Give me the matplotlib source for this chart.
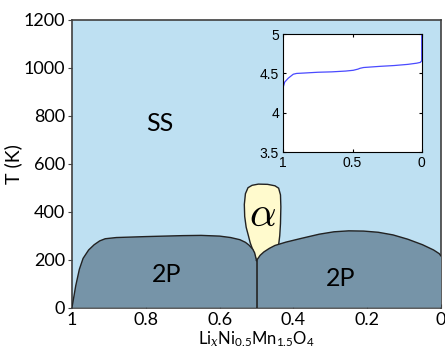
import matplotlib
matplotlib.use("Agg")
import matplotlib.pyplot as plt

plt.rcParams['mathtext.fontset'] = 'custom'
plt.rcParams['mathtext.rm'] = 'Lato'
plt.rcParams['mathtext.it'] = 'DejaVu Serif:italic'

# ---- data ----
# left two-phase dome boundary (x, T)
left2p_x = [1.0, 0.99, 0.98, 0.97, 0.955, 0.94, 0.925, 0.91, 0.88, 0.80, 0.70, 0.65,
            0.60, 0.57, 0.545, 0.53, 0.52, 0.51, 0.505, 0.5]
left2p_T = [0, 90, 160, 205, 240, 262, 278, 287, 292, 296, 300, 301,
            298, 292, 283, 272, 260, 243, 228, 196]
# right two-phase dome boundary
right2p_x = [0.5, 0.49, 0.48, 0.465, 0.45, 0.42, 0.38, 0.33, 0.29, 0.25, 0.21, 0.17,
             0.13, 0.09, 0.05, 0.02, 0.005, 0.0]
right2p_T = [196, 218, 232, 247, 259, 273, 288, 306, 316, 320, 319, 314,
             303, 285, 262, 240, 225, 215]
# alpha phase outline
alpha_x = [0.5, 0.51, 0.517, 0.522, 0.528, 0.532, 0.533, 0.53, 0.523, 0.512, 0.495,
           0.47, 0.45, 0.44, 0.435, 0.434, 0.435, 0.437, 0.44, 0.46]
alpha_T = [196, 240, 270, 300, 335, 380, 430, 475, 500, 510, 515,
           514, 508, 498, 470, 420, 350, 300, 262, 240]
# inset voltage curve
volt_x = [1.0, 1.0, 0.99, 0.964, 0.928, 0.904, 0.85, 0.75, 0.65, 0.55, 0.494, 0.46,
          0.446, 0.42, 0.30, 0.20, 0.10, 0.036, 0.01, 0.0, 0.0]
volt_V = [3.95, 4.33, 4.39, 4.44, 4.49, 4.50, 4.505, 4.515, 4.52, 4.53, 4.54, 4.555,
          4.565, 4.575, 4.59, 4.60, 4.615, 4.63, 4.64, 4.66, 5.0]

xticks = [1, 0.8, 0.6, 0.4, 0.2, 0]
xticklabels = ['1', '0.8', '0.6', '0.4', '0.2', '0']
yticks = [0, 200, 400, 600, 800, 1000, 1200]
inset_xticks = [1, 0.5, 0]
inset_yticks = [3.5, 4, 4.5, 5]

bg = '#bee0f2'
dark = '#7694a8'
yellow = '#fffacd'
edge = '#222222'

fig = plt.figure(figsize=(4.45, 3.52), dpi=100)
ax = fig.add_axes([72/445, 1-307.5/352, (441-72)/445, (307.5-20)/352])
ax.set_facecolor(bg)
ax.set_xlim(1, 0)
ax.set_ylim(0, 1200)

# alpha region
ax.fill(alpha_x, alpha_T, facecolor=yellow, edgecolor=edge, lw=1.0, zorder=2)
# two-phase regions
lx = left2p_x + [0.5]
lT = left2p_T + [0]
ax.fill(lx, lT, facecolor=dark, edgecolor='none', zorder=3)
ax.plot(left2p_x, left2p_T, color=edge, lw=1.0, zorder=4)
rx = right2p_x + [0.0, 0.5]
rT = right2p_T + [0, 0]
ax.fill(rx, rT, facecolor=dark, edgecolor='none', zorder=3)
ax.plot(right2p_x, right2p_T, color=edge, lw=1.0, zorder=4)
ax.plot([0.5, 0.5], [0, 196], color=edge, lw=1.2, zorder=4)

ax.text(0.762, 770, 'SS', fontsize=18, family='Lato', ha='center', va='center')
ax.text(0.744, 137, '2P', fontsize=18, family='Lato', ha='center', va='center', zorder=5)
ax.text(0.273, 120, '2P', fontsize=18, family='Lato', ha='center', va='center', zorder=5)
ax.text(0.484, 392, r'$\alpha$', fontsize=30, ha='center', va='center', zorder=5,
        math_fontfamily='cm')

ax.set_xticks(xticks)
ax.set_xticklabels(xticklabels)
ax.set_yticks(yticks)
ax.tick_params(axis='x', direction='in', length=3, labelsize=13, pad=3, color='#444444')
ax.tick_params(axis='y', direction='out', length=3, labelsize=13, pad=2, color='#444444')
for lab in ax.get_xticklabels() + ax.get_yticklabels():
    lab.set_family('Lato')
for s in ax.spines.values():
    s.set_color('#404040')
    s.set_linewidth(1.2)
ax.set_ylabel('T (K)', fontsize=14, family='Lato', labelpad=1)
ax.set_xlabel(r'Li$_x$Ni$_{0.5}$Mn$_{1.5}$O$_4$', fontsize=12, family='Lato', labelpad=1)

# inset
ia = fig.add_axes([283.3/445, 1-152.3/352, (421.7-283.3)/445, (152.3-34)/352])
ia.set_facecolor('white')
ia.plot(volt_x, volt_V, color='#4a4aff', lw=0.9)
ia.set_xlim(1, 0)
ia.set_ylim(3.5, 5)
ia.set_xticks(inset_xticks)
ia.set_xticklabels(['1', '0.5', '0'])
ia.set_yticks(inset_yticks)
ia.set_yticklabels(['3.5', '4', '4.5', '5'])
ia.tick_params(direction='in', length=2, labelsize=10, pad=3, top=True, right=True)
for lab in ia.get_xticklabels() + ia.get_yticklabels():
    lab.set_family('Liberation Sans')
for s in ia.spines.values():
    s.set_linewidth(0.8)

fig.savefig('out.png', dpi=100)
